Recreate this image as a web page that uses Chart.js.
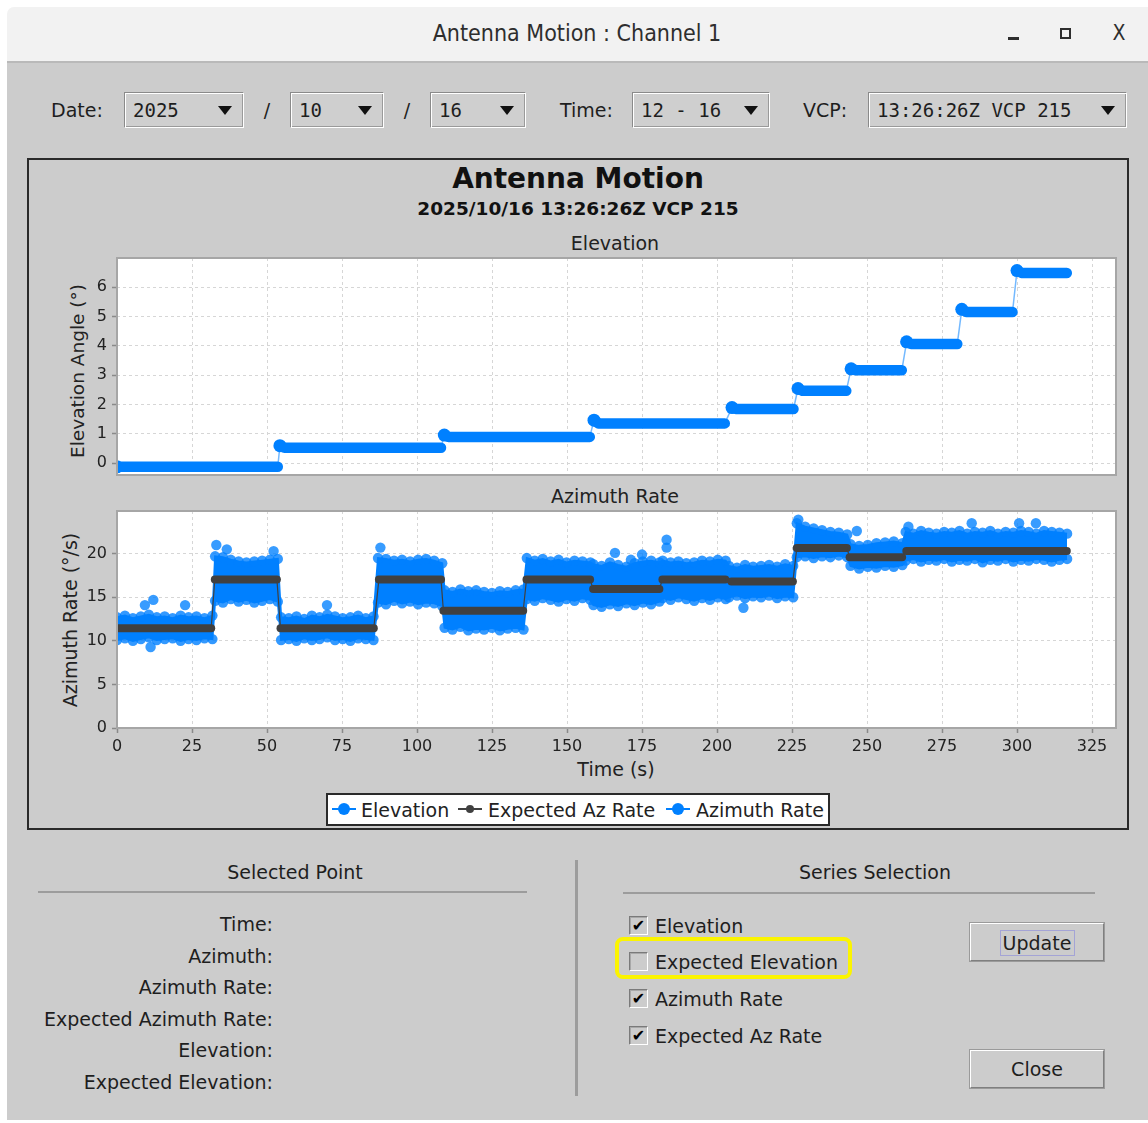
<!DOCTYPE html>
<html>
<head>
<meta charset="utf-8">
<title>Antenna Motion : Channel 1</title>
<script src="https://cdn.jsdelivr.net/npm/chart.js"></script>
<style>
  html,body{margin:0;padding:0;}
  body{width:1148px;height:1123px;overflow:hidden;background:#ffffff;font-family:'DejaVu Sans',sans-serif;color:#1e1e1e;position:relative;}
  .t{position:absolute;white-space:nowrap;line-height:1;}
  .c{transform:translate(-50%,-50%);}
  .l{transform:translate(0,-50%);}
  .r{transform:translate(-100%,-50%);}
  .box{position:absolute;box-sizing:border-box;}
  .combo{position:absolute;box-sizing:border-box;height:36px;top:92px;background:#cfcfcf;
         border-top:1px solid #8a8a8a;border-left:1px solid #8a8a8a;border-right:1px solid #ffffff;border-bottom:1px solid #ffffff;
         box-shadow:inset 1px 1px 0 #ffffff, inset -1px -1px 0 #9a9a9a;}
  .combo span{position:absolute;left:8px;top:50%;transform:translateY(-50%);font-family:'DejaVu Sans Mono',monospace;font-size:19px;color:#1e1e1e;white-space:nowrap;}
  .combo i{position:absolute;right:11px;top:13px;width:0;height:0;border-left:7px solid transparent;border-right:7px solid transparent;border-top:9px solid #111;}
  .lbl{font-size:19px;}
  .chk{position:absolute;box-sizing:border-box;width:19px;height:19px;left:629px;background:#cccccc;
       border-top:1px solid #7a7a7a;border-left:1px solid #7a7a7a;border-right:1px solid #ffffff;border-bottom:1px solid #ffffff;
       box-shadow:inset 1px 1px 0 #a8a8a8;font-size:16px;line-height:17px;text-align:center;color:#000;}
  .btn{position:absolute;box-sizing:border-box;left:970px;width:134px;background:#cccccc;
       border-top:1px solid #ffffff;border-left:1px solid #ffffff;border-right:1px solid #7f7f7f;border-bottom:1px solid #7f7f7f;
       box-shadow:0 0 0 1px #9a9a9a;}
  canvas{position:absolute;}
</style>
</head>
<body>
<!-- window frame -->
<div class="box" style="left:7px;top:7px;width:1141px;height:56px;background:#f2f2f2;border-top-left-radius:7px;border-bottom:2px solid #b9b9b9;"></div>
<div class="box" style="left:7px;top:63px;width:1141px;height:1057px;background:#cccccc;"></div>

<div class="t c" style="left:577px;top:33px;font-family:'DejaVu Sans Condensed','DejaVu Sans',sans-serif;font-stretch:condensed;font-size:23px;color:#2e2e2e;">Antenna Motion : Channel 1</div>
<div class="box" style="left:1008px;top:37px;width:11px;height:3px;background:#2e2e2e;"></div>
<div class="box" style="left:1060px;top:28px;width:11px;height:11px;border:2px solid #2e2e2e;"></div>
<div class="t c" style="left:1119px;top:33px;font-family:'DejaVu Sans Condensed','DejaVu Sans',sans-serif;font-stretch:condensed;font-size:21px;color:#2e2e2e;">X</div>

<!-- toolbar -->
<div class="t l lbl" style="left:51px;top:110px;">Date:</div>
<div class="combo" style="left:124px;width:120px;"><span>2025</span><i></i></div>
<div class="t c lbl" style="left:267px;top:110px;">/</div>
<div class="combo" style="left:290px;width:94px;"><span>10</span><i></i></div>
<div class="t c lbl" style="left:407px;top:110px;">/</div>
<div class="combo" style="left:430px;width:96px;"><span>16</span><i></i></div>
<div class="t l lbl" style="left:560px;top:110px;">Time:</div>
<div class="combo" style="left:632px;width:138px;"><span>12 - 16</span><i></i></div>
<div class="t l lbl" style="left:803px;top:110px;">VCP:</div>
<div class="combo" style="left:868px;width:259px;"><span>13:26:26Z VCP 215</span><i></i></div>

<!-- chart panel -->
<div class="box" style="left:27px;top:158px;width:1102px;height:672px;border:2px solid #2a2a2a;"></div>
<div class="t c" style="left:578px;top:179px;font-size:28px;font-weight:bold;color:#111;">Antenna Motion</div>
<div class="t c" style="left:578px;top:209px;font-size:18.5px;font-weight:bold;color:#111;">2025/10/16 13:26:26Z VCP 215</div>
<div class="t c" style="left:615px;top:243px;font-size:19px;color:#222;">Elevation</div>
<div class="t c" style="left:615px;top:496px;font-size:19px;color:#222;">Azimuth Rate</div>
<div class="t c" style="left:78px;top:371px;font-size:18.5px;color:#222;transform:translate(-50%,-50%) rotate(-90deg);">Elevation Angle (°)</div>
<div class="t c" style="left:70px;top:620px;font-size:19px;color:#222;transform:translate(-50%,-50%) rotate(-90deg);">Azimuth Rate (°/s)</div>
<div class="t c" style="left:616px;top:769px;font-size:19px;color:#222;">Time (s)</div>

<canvas id="elevChart" width="1098" height="232" style="left:29px;top:250px;"></canvas>
<canvas id="azChart" width="1098" height="282" style="left:29px;top:503px;"></canvas>

<!-- legend -->
<div class="box" style="left:326px;top:793px;width:504px;height:33px;background:#fff;border:2px solid #2a2a2a;"></div>
<div class="box" style="left:332px;top:808px;width:24px;height:2px;background:#0080ff;"></div>
<div class="box" style="left:338px;top:803px;width:12px;height:12px;border-radius:50%;background:#0080ff;"></div>
<div class="t l" style="left:361px;top:810px;font-size:19px;color:#222;">Elevation</div>
<div class="box" style="left:458px;top:808px;width:24px;height:2px;background:#404040;"></div>
<div class="box" style="left:466px;top:805px;width:8px;height:8px;border-radius:50%;background:#404040;"></div>
<div class="t l" style="left:488px;top:810px;font-size:19px;color:#222;">Expected Az Rate</div>
<div class="box" style="left:666px;top:808px;width:24px;height:2px;background:#0080ff;"></div>
<div class="box" style="left:672px;top:803px;width:12px;height:12px;border-radius:50%;background:#0080ff;"></div>
<div class="t l" style="left:696px;top:810px;font-size:19px;color:#222;">Azimuth Rate</div>

<!-- selected point panel -->
<div class="t c lbl" style="left:295px;top:872px;">Selected Point</div>
<div class="box" style="left:38px;top:891px;width:489px;height:2px;background:#9c9c9c;"></div>
<div class="t r lbl" style="left:273px;top:924px;">Time:</div>
<div class="t r lbl" style="left:273px;top:956px;">Azimuth:</div>
<div class="t r lbl" style="left:273px;top:987px;">Azimuth Rate:</div>
<div class="t r lbl" style="left:273px;top:1019px;">Expected Azimuth Rate:</div>
<div class="t r lbl" style="left:273px;top:1050px;">Elevation:</div>
<div class="t r lbl" style="left:273px;top:1082px;">Expected Elevation:</div>
<div class="box" style="left:575px;top:860px;width:3px;height:236px;background:#9c9c9c;"></div>

<!-- series selection panel -->
<div class="t c lbl" style="left:875px;top:872px;">Series Selection</div>
<div class="box" style="left:623px;top:892px;width:472px;height:2px;background:#9c9c9c;"></div>
<div class="chk" style="top:916px;">✔</div>
<div class="t l lbl" style="left:655px;top:926px;">Elevation</div>
<div class="chk" style="top:952px;"></div>
<div class="t l lbl" style="left:655px;top:962px;">Expected Elevation</div>
<div class="chk" style="top:989px;">✔</div>
<div class="t l lbl" style="left:655px;top:999px;">Azimuth Rate</div>
<div class="chk" style="top:1026px;">✔</div>
<div class="t l lbl" style="left:655px;top:1036px;">Expected Az Rate</div>
<div class="box" style="left:615px;top:937px;width:237px;height:42px;border:4px solid #fbf400;border-radius:8px;"></div>

<div class="btn" style="top:923px;height:38px;"></div>
<div class="box" style="left:1000px;top:930px;width:75px;height:26px;border:1px solid #a4a4d6;"></div>
<div class="t c lbl" style="left:1037px;top:943px;">Update</div>
<div class="btn" style="top:1050px;height:38px;"></div>
<div class="t c lbl" style="left:1037px;top:1069px;">Close</div>

<script>
// ---------------- data ----------------
const timeTicks = [0, 25, 50, 75, 100, 125, 150, 175, 200, 225, 250, 275, 300, 325];
const elevTicks = [0, 1, 2, 3, 4, 5, 6];
const azTicks = [0, 5, 10, 15, 20];

// Elevation steps (s, deg)
const elStart  = [0, 54.3, 109.1, 159.0, 205.0, 227.0, 244.7, 263.2, 281.6, 300.0];
const elSettle = [1.0, 55.8, 110.5, 160.5, 206.5, 228.5, 246.2, 264.7, 283.1, 301.5];
const elEnd    = [53.6, 108.0, 157.6, 202.6, 225.5, 243.1, 261.6, 280.1, 298.5, 316.6];
const elPeak   = [-0.12, 0.60, 0.96, 1.47, 1.90, 2.55, 3.22, 4.14, 5.25, 6.57];
const elLevel  = [-0.12, 0.53, 0.90, 1.36, 1.85, 2.47, 3.17, 4.07, 5.16, 6.49];

// Expected azimuth rate per cut (s, deg/s)
const expStart = [0, 32.6, 54.5, 87.3, 108.8, 136.5, 158.7, 181.8, 204.8, 226.6, 244.2, 263.1];
const expEnd   = [31.4, 53.3, 85.6, 108.0, 135.4, 157.7, 180.8, 202.8, 225.3, 243.3, 261.7, 316.6];
const expAz    = [11.46, 17.05, 11.46, 17.05, 13.45, 17.05, 15.94, 17.05, 16.82, 20.65, 19.58, 20.31];

// Measured azimuth rate: cloud extent per cut (upper / lower edge samples, deg/s)
const cloudStart = [0, 32.7, 54.7, 87.0, 109.2, 136.6, 158.8, 181.9, 204.0, 226.6, 244.5, 262.9];
const cloudEnd   = [31.8, 53.6, 85.5, 108.4, 135.5, 157.8, 180.8, 202.9, 225.4, 243.4, 261.8, 316.7];
const azHigh = [
  [12.7, 12.9, 12.6, 12.8, 13.0, 12.7, 12.8, 12.6, 12.9, 12.7, 12.8, 12.6, 12.9],
  [19.7, 19.6, 19.3, 19.1, 19.0, 19.1, 19.2, 19.3, 19.4],
  [12.7, 12.6, 12.8, 12.5, 12.9, 12.7, 13.0, 12.8, 12.6, 12.7, 12.9, 12.6, 12.8],
  [19.5, 19.4, 19.2, 19.3, 19.1, 19.3, 19.4, 19.2, 18.9],
  [15.8, 15.6, 15.9, 15.7, 15.8, 15.6, 15.5, 15.7, 15.6, 15.8, 15.9],
  [19.5, 19.2, 19.4, 19.1, 19.3, 19.0, 19.2, 19.1, 19.0],
  [18.8, 18.6, 19.0, 18.7, 18.5, 18.9, 19.1, 19.2, 19.0],
  [19.2, 19.0, 19.1, 18.9, 19.0, 19.2, 19.1, 19.3, 19.2],
  [18.6, 18.4, 18.7, 18.5, 18.6, 18.7, 18.5, 18.8, 18.6],
  [23.5, 23.1, 22.9, 22.7, 22.5, 22.4, 22.2],
  [21.1, 20.9, 21.0, 21.2, 21.3, 21.4, 21.2],
  [22.5, 22.3, 22.6, 22.4, 22.3, 22.5, 22.4, 22.6, 22.3, 22.5, 22.4, 22.6, 22.3, 22.5, 22.4, 22.6, 22.5, 22.3, 22.6, 22.5, 22.4, 22.3]
];
const azLow = [
  [10.1, 10.3, 10.0, 10.2, 10.4, 10.1, 10.2, 10.3, 10.0, 10.2, 10.1, 10.3, 10.2],
  [14.6, 14.4, 14.8, 14.5, 14.7, 14.4, 14.6, 14.8, 14.5],
  [10.1, 10.2, 10.0, 10.3, 10.1, 10.2, 10.4, 10.1, 10.2, 10.0, 10.3, 10.2, 10.1],
  [14.4, 14.2, 14.6, 14.3, 14.5, 14.2, 14.4, 14.3, 14.0],
  [11.5, 11.3, 11.6, 11.2, 11.4, 11.3, 11.5, 11.2, 11.4, 11.5, 11.3],
  [14.8, 14.6, 14.9, 14.7, 14.5, 14.8, 14.6, 14.9, 14.7],
  [14.1, 13.9, 14.2, 14.0, 14.3, 14.1, 14.4, 14.2, 14.5],
  [14.9, 14.7, 15.0, 14.8, 14.6, 14.9, 14.7, 15.0, 14.8],
  [15.0, 15.2, 14.9, 15.1, 15.0, 15.2, 14.9, 15.1, 15.0],
  [19.6, 19.7, 19.5, 19.7, 19.6, 19.8, 19.6],
  [18.6, 18.3, 18.5, 18.4, 18.6, 18.5, 18.7],
  [19.2, 19.4, 19.1, 19.3, 19.2, 19.4, 19.1, 19.3, 19.2, 19.4, 19.0, 19.3, 19.2, 19.4, 19.1, 19.3, 19.2, 19.4, 19.3, 19.1, 19.3, 19.4]
];
// Isolated azimuth-rate samples outside the main cloud
const outT = [9.3, 12.1, 11.2, 22.7, 33.1, 36.6, 52.2, 70.0, 87.8, 166.0, 171.3, 175.0, 183.2, 183.2, 208.8, 227.1, 246.6, 263.8, 284.9, 300.7, 306.3];
const outV = [14.1, 14.7, 9.3, 14.1, 21.0, 20.5, 20.3, 14.1, 20.7, 20.1, 19.3, 19.9, 21.6, 20.7, 13.8, 23.9, 22.6, 23.1, 23.5, 23.5, 23.5];

// ---------------- build chart data ----------------
const BLUE = 'rgb(0,128,255)';
const DARK = '#404040';

const elevData = [];
elStart.forEach((s, i) => {
  elevData.push({x: s, y: elPeak[i]});
  elevData.push({x: elSettle[i], y: elLevel[i]});
  elevData.push({x: elEnd[i], y: elLevel[i]});
});

const expData = [];
expStart.forEach((s, i) => {
  expData.push({x: s, y: expAz[i]});
  expData.push({x: expEnd[i], y: expAz[i]});
});

function cloudPoints(lists) {
  const pts = [];
  lists.forEach((vals, i) => {
    const s = cloudStart[i], e = cloudEnd[i], n = vals.length;
    vals.forEach((v, k) => pts.push({x: s + (e - s) * k / (n - 1), y: v}));
  });
  return pts;
}
const highData = cloudPoints(azHigh);
const lowData = cloudPoints(azLow);
const outData = outT.map((t, i) => ({x: t, y: outV[i]}));

// ---------------- plugins / common options ----------------
const framePlugin = {
  id: 'frame',
  beforeDraw(chart) {
    const {ctx, chartArea: a} = chart;
    ctx.save();
    ctx.fillStyle = '#ffffff';
    ctx.fillRect(a.left, a.top, a.right - a.left, a.bottom - a.top);
    ctx.restore();
  },
  afterDraw(chart) {
    const {ctx, chartArea: a} = chart;
    ctx.save();
    ctx.strokeStyle = '#a6a6a6';
    ctx.lineWidth = 2;
    ctx.strokeRect(a.left, a.top, a.right - a.left, a.bottom - a.top);
    ctx.restore();
  }
};

function noPad(s) { s.paddingTop = 0; s.paddingBottom = 0; s.paddingLeft = 0; s.paddingRight = 0; }

const tickFont = {family: "'DejaVu Sans', sans-serif", size: 16};
function gridOpts(showTicks) {
  return {color: '#d6d6d6', lineWidth: 1, drawTicks: showTicks, tickLength: 5, tickColor: '#8a8a8a', tickWidth: 1.5};
}
const borderOpts = {display: false, dash: [3, 3]};

function xScale(showLabels) {
  return {
    type: 'linear', min: 0, max: 333,
    afterBuildTicks: s => { s.ticks = timeTicks.map(v => ({value: v})); },
    afterFit: s => { s.height = showLabels ? 30 : 0; noPad(s); },
    grid: gridOpts(showLabels),
    border: borderOpts,
    ticks: {display: showLabels, font: tickFont, color: '#222', padding: 4, maxRotation: 0, autoSkip: false}
  };
}
function yScale(min, max, vals) {
  return {
    type: 'linear', min: min, max: max,
    afterBuildTicks: s => { s.ticks = vals.map(v => ({value: v})); },
    afterFit: s => { s.width = 88; noPad(s); },
    grid: gridOpts(true),
    border: borderOpts,
    ticks: {font: tickFont, color: '#222', padding: 5}
  };
}

Chart.defaults.font.family = "'DejaVu Sans', sans-serif";

// ---------------- elevation chart ----------------
new Chart(document.getElementById('elevChart'), {
  type: 'line',
  data: {
    datasets: [{
      label: 'Elevation',
      data: elevData,
      borderColor: BLUE,
      backgroundColor: BLUE,
      borderWidth: 10,
      borderCapStyle: 'round',
      borderJoinStyle: 'round',
      pointRadius: c => (c.dataIndex % 3 === 0 ? 6.5 : 0),
      pointBackgroundColor: BLUE,
      pointBorderWidth: 0,
      clip: 0,
      segment: {
        borderWidth: c => (c.p0DataIndex % 3 === 2 ? 1.5 : 10.5),
        borderColor: c => (c.p0DataIndex % 3 === 2 ? 'rgba(0,128,255,0.55)' : BLUE)
      }
    }]
  },
  options: {
    responsive: false, animation: false, events: [],
    layout: {padding: {top: 8, right: 11, bottom: 7, left: 0}},
    plugins: {legend: {display: false}, tooltip: {enabled: false}},
    scales: {x: xScale(false), y: yScale(-0.4, 7.0, elevTicks)}
  },
  plugins: [framePlugin]
});

// ---------------- azimuth rate chart ----------------
new Chart(document.getElementById('azChart'), {
  type: 'line',
  data: {
    datasets: [
      {
        label: 'Expected Az Rate',
        data: expData,
        borderColor: DARK,
        borderWidth: 8,
        borderCapStyle: 'round',
        pointRadius: 0,
        clip: 0,
        segment: {
          borderWidth: c => (c.p0DataIndex % 2 === 1 ? 1.2 : 8)
        }
      },
      {
        label: 'Azimuth Rate (isolated)',
        data: outData,
        showLine: false,
        pointRadius: 5.2,
        pointBackgroundColor: 'rgba(0,128,255,0.78)',
        pointBorderWidth: 0,
        clip: 0
      },
      {
        label: 'Azimuth Rate',
        data: highData,
        borderColor: BLUE,
        borderWidth: 2,
        backgroundColor: BLUE,
        fill: '+1',
        pointRadius: 5.2,
        pointBackgroundColor: 'rgba(0,128,255,0.8)',
        pointBorderWidth: 0,
        clip: 0
      },
      {
        label: 'Azimuth Rate low',
        data: lowData,
        borderColor: BLUE,
        borderWidth: 2,
        pointRadius: 5.2,
        pointBackgroundColor: 'rgba(0,128,255,0.8)',
        pointBorderWidth: 0,
        clip: 0
      }
    ]
  },
  options: {
    responsive: false, animation: false, events: [],
    layout: {padding: {top: 8, right: 11, bottom: 27, left: 0}},
    plugins: {legend: {display: false}, tooltip: {enabled: false}, filler: {propagate: false}},
    scales: {x: xScale(true), y: yScale(0, 24.9, azTicks)}
  },
  plugins: [framePlugin]
});
</script>
</body>
</html>
